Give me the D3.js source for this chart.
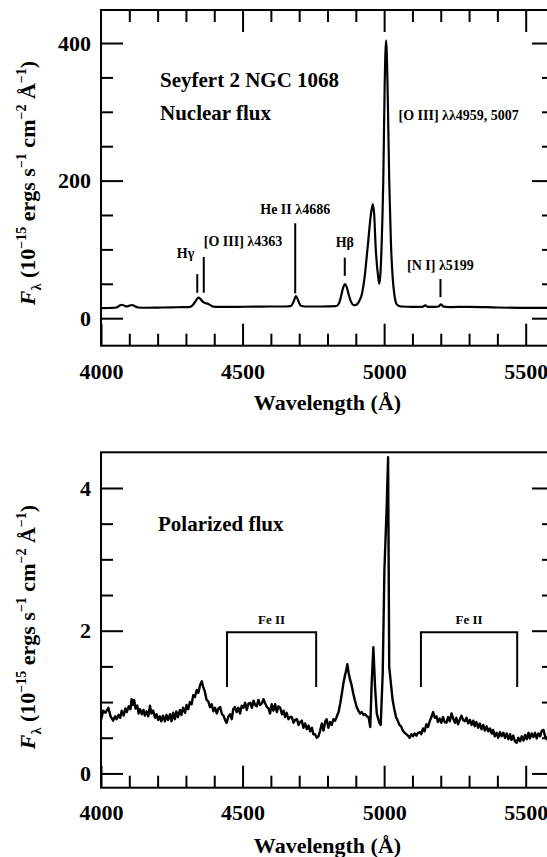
<!DOCTYPE html>
<html>
<head>
<meta charset="utf-8">
<script src="https://cdn.jsdelivr.net/npm/d3@7/dist/d3.min.js"></script>
<style>
  html, body { margin: 0; padding: 0; background: #fff; }
  svg { display: block; }
  text { font-family: "Liberation Serif", "Times New Roman", serif; font-weight: bold; fill: #000; }
</style>
</head>
<body>
<svg id="chart" width="547" height="857"></svg>
<script>
// ---- Nuclear (total) flux, 10^-15 erg s^-1 cm^-2 A^-1 ----
const nucWave = [4000, 4030, 4055, 4066, 4074, 4083, 4091, 4100, 4110, 4120, 4132, 4160, 4200, 4250, 4290, 4315,
  4326, 4336, 4344, 4351, 4359, 4368, 4377, 4386, 4396, 4420, 4480, 4540, 4600, 4650, 4672, 4680, 4689, 4697,
  4706, 4720, 4780, 4830, 4840, 4848, 4855, 4862, 4868, 4875, 4883, 4892, 4898, 4911, 4922, 4930, 4942, 4954,
  4960, 4965, 4970, 4979, 4983, 4987, 4991, 4997, 5002, 5007, 5012, 5018, 5024, 5030, 5036, 5045, 5060, 5100,
  5135, 5145, 5155, 5180, 5192, 5201, 5210, 5230, 5300, 5400, 5500, 5600];
const nucFlux = [14.5, 14.8, 15.5, 18.5, 19.5, 18.0, 17.0, 18.2, 19.2, 17.5, 15.5, 15.2, 15.4, 15.8, 16.0, 16.5,
  20, 26, 30, 28, 24, 22, 21, 19, 16.8, 16.3, 16.5, 16.8, 17, 17, 18, 24, 32, 25,
  18, 17, 17, 17.5, 21, 32, 44, 49.5, 45, 34, 24, 19, 19, 24, 36, 56, 104, 153,
  166, 150, 104, 60, 50, 65, 104, 200, 340, 404, 340, 200, 110, 60, 35, 20, 17, 16.5,
  16.5, 18.5, 16.5, 16.5, 17, 20, 16.8, 16.2, 16.5, 15.5, 15, 15.2];

// ---- Polarized flux ----
const polWave = [4000, 4008, 4016, 4026, 4034, 4043, 4050, 4055, 4062, 4068, 4073, 4080, 4086, 4091, 4098, 4104,
  4108, 4113, 4117, 4122, 4128, 4133, 4138, 4144, 4150, 4155, 4161, 4167, 4173, 4178, 4184, 4191, 4196, 4202,
  4208, 4213, 4219, 4226, 4231, 4237, 4244, 4249, 4255, 4261, 4266, 4272, 4279, 4284, 4290, 4297, 4302, 4308,
  4314, 4320, 4326, 4332, 4338, 4344, 4350, 4356, 4361, 4366, 4373, 4379, 4385, 4391, 4397, 4403, 4409, 4415,
  4421, 4427, 4433, 4439, 4444, 4450, 4456, 4462, 4467, 4473, 4479, 4485, 4491, 4497, 4503, 4509, 4515, 4521,
  4527, 4533, 4539, 4544, 4550, 4556, 4562, 4568, 4574, 4580, 4586, 4592, 4597, 4603, 4609, 4615, 4621, 4627,
  4633, 4639, 4645, 4650, 4656, 4662, 4668, 4674, 4680, 4686, 4692, 4698, 4703, 4709, 4715, 4721, 4727, 4733,
  4739, 4745, 4750, 4756, 4762, 4768, 4774, 4780, 4786, 4792, 4797, 4803, 4809, 4815, 4821, 4827, 4833, 4839,
  4845, 4850, 4856, 4862, 4866, 4870, 4875, 4880, 4885, 4891, 4897, 4903, 4909, 4915, 4921, 4927, 4933, 4939,
  4945, 4951, 4956, 4962, 4968, 4974, 4980, 4984, 4988, 4995, 5001, 5009, 5014, 5018, 5024, 5030, 5036, 5042,
  5048, 5054, 5060, 5066, 5072, 5078, 5084, 5090, 5096, 5102, 5108, 5114, 5120, 5126, 5131, 5137, 5143, 5149,
  5155, 5161, 5167, 5173, 5179, 5185, 5190, 5196, 5202, 5208, 5214, 5220, 5226, 5232, 5238, 5244, 5250, 5255,
  5261, 5267, 5273, 5279, 5285, 5291, 5297, 5303, 5309, 5315, 5320, 5326, 5332, 5338, 5344, 5350, 5356, 5362,
  5368, 5374, 5380, 5385, 5391, 5397, 5403, 5409, 5415, 5421, 5427, 5433, 5439, 5445, 5450, 5456, 5462, 5468,
  5474, 5480, 5486, 5492, 5498, 5504, 5510, 5515, 5521, 5527, 5533, 5539, 5545, 5551, 5557, 5563, 5569, 5575,
  5582, 5590, 5600];
const polFlux = [0.75, 0.88, 0.85, 0.92, 0.80, 0.74, 0.80, 0.76, 0.82, 0.78, 0.88, 0.81, 0.91, 0.86, 0.94, 0.90,
  1.04, 0.96, 1.03, 0.91, 0.95, 0.84, 0.90, 0.83, 0.89, 0.81, 0.87, 0.80, 0.95, 0.84, 0.88, 0.78, 0.83, 0.75,
  0.80, 0.73, 0.81, 0.73, 0.82, 0.75, 0.83, 0.73, 0.85, 0.76, 0.87, 0.79, 0.89, 0.82, 0.92, 0.85, 0.96, 0.90,
  1.00, 0.97, 1.10, 1.07, 1.17, 1.13, 1.24, 1.29, 1.21, 1.16, 1.03, 1.01, 0.93, 0.97, 0.87, 0.92, 0.84, 0.91,
  0.93, 0.83, 0.81, 0.74, 0.71, 0.80, 0.83, 0.76, 0.90, 0.93, 0.86, 0.92, 0.84, 0.95, 0.92, 0.99, 0.89, 0.98,
  0.99, 0.92, 1.02, 0.96, 0.94, 1.03, 0.96, 0.98, 1.04, 0.98, 0.93, 0.91, 0.84, 0.97, 0.88, 0.97, 0.86, 0.94,
  0.92, 0.83, 0.88, 0.79, 0.85, 0.76, 0.79, 0.79, 0.71, 0.75, 0.76, 0.68, 0.72, 0.74, 0.64, 0.70, 0.62, 0.67,
  0.59, 0.64, 0.55, 0.55, 0.50, 0.52, 0.60, 0.70, 0.60, 0.73, 0.76, 0.64, 0.72, 0.68, 0.76, 0.74, 0.80, 0.86,
  0.98, 1.10, 1.26, 1.38, 1.44, 1.53, 1.40, 1.31, 1.24, 1.12, 1.02, 0.93, 0.88, 0.84, 0.86, 0.82, 0.83, 0.80,
  0.79, 0.65, 1.26, 1.77, 1.21, 0.84, 0.75, 0.70, 0.68, 1.40, 2.85, 3.73, 4.43, 1.49, 1.26, 1.03, 0.90, 0.79,
  0.74, 0.68, 0.66, 0.60, 0.57, 0.55, 0.53, 0.50, 0.55, 0.52, 0.56, 0.53, 0.57, 0.58, 0.55, 0.63, 0.59, 0.69,
  0.65, 0.73, 0.79, 0.86, 0.78, 0.80, 0.72, 0.77, 0.71, 0.79, 0.72, 0.71, 0.79, 0.73, 0.84, 0.77, 0.71, 0.78,
  0.69, 0.75, 0.81, 0.75, 0.73, 0.78, 0.70, 0.75, 0.68, 0.74, 0.66, 0.72, 0.64, 0.70, 0.62, 0.68, 0.60, 0.66,
  0.59, 0.63, 0.56, 0.61, 0.52, 0.57, 0.50, 0.58, 0.52, 0.57, 0.50, 0.56, 0.48, 0.55, 0.47, 0.53, 0.45, 0.43,
  0.50, 0.45, 0.52, 0.46, 0.54, 0.48, 0.57, 0.49, 0.56, 0.51, 0.57, 0.49, 0.56, 0.52, 0.60, 0.61, 0.51, 0.48,
  0.56, 0.51, 0.54];

// ---- Axis ticks ----
const xMajor = [4000, 4500, 5000, 5500];
const xMinor = [4100, 4200, 4300, 4400, 4600, 4700, 4800, 4900, 5100, 5200, 5300, 5400];
const nucMajor = [0, 200, 400];
const nucMinor = [50, 100, 150, 250, 300, 350];
const polMajor = [0, 2, 4];
const polMinor = [0.5, 1, 1.5, 2.5, 3, 3.5];

// ---- Line identifications (nuclear panel) ----
const idLabels = ["H\u03b3", "[O III] \u03bb4363", "He II \u03bb4686", "H\u03b2", "[N I] \u03bb5199"];
const idWave   = [4340, 4363, 4686, 4861, 5199];
const idTop    = [64, 89, 138, 88, 57];
const idBottom = [37, 37, 36, 61.5, 30.5];
const idAnchor = ["end", "start", "middle", "middle", "middle"];
const idLabelY = [87, 105, 152, 103, 70];

// ---- Fe II blends (polarized panel) ----
const feStart = [4445, 5130];
const feEnd   = [4760, 5470];
const feTop = 1.98, feBottom = 1.21;

const svg = d3.select("#chart");
const x = d3.scaleLinear().domain([4000, 5600]).range([101, 554]);
const panels = [
  { y: d3.scaleLinear().domain([-40, 448]).range([345.7, 10]), major: nucMajor, minor: nucMinor,
    wave: nucWave, flux: nucFlux, curve: d3.curveMonotoneX, width: 2.2,
    topTicks: true, labelPad: 18, titleY: 410, yTitleC: 183 },
  { y: d3.scaleLinear().domain([-0.2, 4.5]).range([787.7, 452.3]), major: polMajor, minor: polMinor,
    wave: polWave, flux: polFlux, curve: d3.curveLinear, width: 2.4,
    topTicks: false, labelPad: 17, titleY: 853, yTitleC: 627 }
];

const MAJ = 22, MIN = 12, SW = 2;

function styleAxis(g, withLabels) {
  g.select(".domain").remove();
  g.selectAll(".tick line").attr("stroke", "#000").attr("stroke-width", SW);
  g.attr("font-family", null).attr("font-size", null);
  if (withLabels) g.selectAll(".tick text").attr("font-size", 22).attr("fill", "#000");
  else g.selectAll(".tick text").remove();
}

panels.forEach((p, i) => {
  const [yb, yt] = p.y.range();
  const [xl, xr] = x.range();
  const g = svg.append("g");

  // inward ticks on all sides
  const fmt = d => d3.format("d")(d);
  g.append("g").attr("transform", `translate(${xl},0)`)
    .call(d3.axisLeft(p.y).tickValues(p.major).tickSizeInner(-MAJ).tickSizeOuter(0).tickPadding(10).tickFormat(fmt))
    .call(a => styleAxis(a, true));
  g.append("g").attr("transform", `translate(${xl},0)`)
    .call(d3.axisLeft(p.y).tickValues(p.minor).tickSizeInner(-MIN).tickSizeOuter(0))
    .call(a => styleAxis(a, false));
  g.append("g").attr("transform", `translate(${xr},0)`)
    .call(d3.axisRight(p.y).tickValues(p.major).tickSizeInner(-MAJ).tickSizeOuter(0))
    .call(a => styleAxis(a, false));
  g.append("g").attr("transform", `translate(${xr},0)`)
    .call(d3.axisRight(p.y).tickValues(p.minor).tickSizeInner(-MIN).tickSizeOuter(0))
    .call(a => styleAxis(a, false));
  g.append("g").attr("transform", `translate(0,${yb})`)
    .call(d3.axisBottom(x).tickValues(xMajor).tickSizeInner(-MAJ).tickSizeOuter(0).tickPadding(p.labelPad).tickFormat(fmt))
    .call(a => styleAxis(a, true));
  g.append("g").attr("transform", `translate(0,${yb})`)
    .call(d3.axisBottom(x).tickValues(xMinor).tickSizeInner(-MIN).tickSizeOuter(0))
    .call(a => styleAxis(a, false));
  if (p.topTicks) {
    g.append("g").attr("transform", `translate(0,${yt})`)
      .call(d3.axisTop(x).tickValues(xMajor.slice(1)).tickSizeInner(-MAJ).tickSizeOuter(0))
      .call(a => styleAxis(a, false));
    g.append("g").attr("transform", `translate(0,${yt})`)
      .call(d3.axisTop(x).tickValues(xMinor).tickSizeInner(-MIN).tickSizeOuter(0))
      .call(a => styleAxis(a, false));
  }

  // frame
  g.append("rect").attr("x", xl).attr("y", yt).attr("width", xr - xl).attr("height", yb - yt)
    .attr("fill", "none").attr("stroke", "#000").attr("stroke-width", SW);

  // spectrum
  const clipId = "clip" + i;
  svg.append("clipPath").attr("id", clipId).append("rect")
    .attr("x", xl).attr("y", yt).attr("width", xr - xl).attr("height", yb - yt);
  const line = d3.line().x(d => x(d[0])).y(d => p.y(d[1])).curve(p.curve);
  g.append("path").datum(p.wave.map((w, k) => [w, p.flux[k]]))
    .attr("clip-path", `url(#${clipId})`)
    .attr("d", line).attr("fill", "none").attr("stroke", "#000")
    .attr("stroke-width", p.width).attr("stroke-linejoin", "round");

  // x-axis title
  g.append("text").attr("x", (xl + xr) / 2).attr("y", p.titleY).attr("text-anchor", "middle")
    .attr("font-size", 22).text("Wavelength (\u00c5)");

  // y-axis title
  const t = g.append("text").attr("text-anchor", "middle").attr("font-size", 22)
    .attr("transform", `translate(35,${p.yTitleC}) rotate(-90)`);
  t.append("tspan").attr("font-style", "italic").text("F");
  t.append("tspan").attr("font-size", 14).attr("dy", 6).text("\u03bb");
  t.append("tspan").attr("dy", -6).text(" (10");
  t.append("tspan").attr("font-size", 14).attr("dy", -9).text("\u221215");
  t.append("tspan").attr("dy", 9).text(" ergs s");
  t.append("tspan").attr("font-size", 14).attr("dy", -9).text("\u22121");
  t.append("tspan").attr("dy", 9).text(" cm");
  t.append("tspan").attr("font-size", 14).attr("dy", -9).text("\u22122");
  t.append("tspan").attr("dy", 9).text(" \u00c5");
  t.append("tspan").attr("font-size", 14).attr("dy", -9).text("\u22121");
  t.append("tspan").attr("dy", 9).text(")");
});

// nuclear panel annotations
const yN = panels[0].y, yP = panels[1].y;
svg.append("text").attr("x", 160).attr("y", 87).attr("font-size", 21).text("Seyfert 2 NGC 1068");
svg.append("text").attr("x", 160).attr("y", 120).attr("font-size", 21).text("Nuclear flux");
svg.append("text").attr("x", 398.5).attr("y", 120).attr("font-size", 14).text("[O III] \u03bb\u03bb4959, 5007");

idWave.forEach((w, k) => {
  svg.append("line").attr("x1", x(w)).attr("x2", x(w))
    .attr("y1", yN(idTop[k])).attr("y2", yN(idBottom[k]))
    .attr("stroke", "#000").attr("stroke-width", 2);
  const dx = idAnchor[k] === "end" ? -3 : 0;
  svg.append("text").attr("x", x(w) + dx).attr("y", yN(idLabelY[k]))
    .attr("text-anchor", idAnchor[k]).attr("font-size", 14).text(idLabels[k]);
});

// polarized panel annotations
svg.append("text").attr("x", 158).attr("y", 531).attr("font-size", 21).text("Polarized flux");
feStart.forEach((s, k) => {
  const e = feEnd[k];
  svg.append("path")
    .attr("d", `M${x(s)},${yP(feBottom)}V${yP(feTop)}H${x(e)}V${yP(feBottom)}`)
    .attr("fill", "none").attr("stroke", "#000").attr("stroke-width", 2);
  svg.append("text").attr("x", (x(s) + x(e)) / 2).attr("y", yP(feTop) - 8)
    .attr("text-anchor", "middle").attr("font-size", 13).text("Fe II");
});
</script>
</body>
</html>
